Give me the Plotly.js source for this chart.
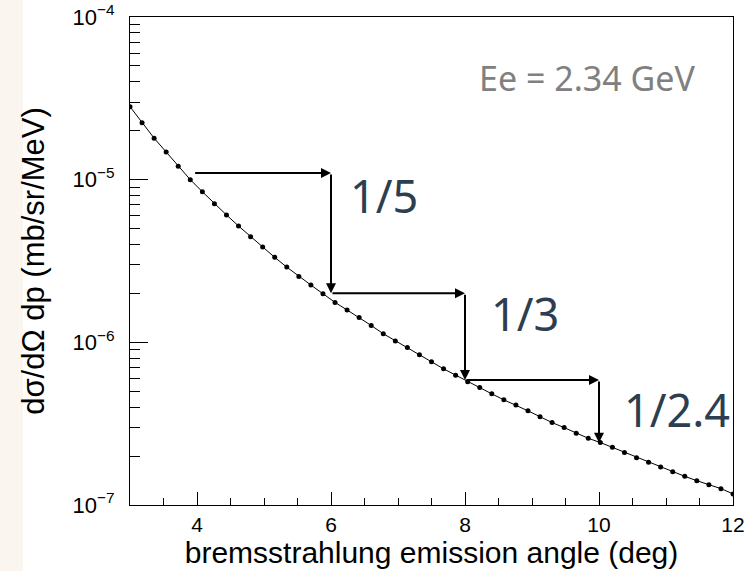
<!DOCTYPE html>
<html>
<head>
<meta charset="utf-8">
<script src="https://cdn.plot.ly/plotly-3.0.1.min.js"></script>
<style>
html,body{margin:0;padding:0;background:#fff;}
#chart{width:746px;height:571px;}
</style>
</head>
<body>
<div id="chart"></div>
<script>
// emission angle (deg)
const angle = [3, 3.18, 3.36, 3.54, 3.72, 3.9, 4.08, 4.26, 4.44, 4.62, 4.8, 4.98, 5.16, 5.34, 5.52, 5.7, 5.88, 6.06, 6.24, 6.42, 6.6, 6.78, 6.96, 7.14, 7.32, 7.5, 7.68, 7.86, 8.04, 8.22, 8.4, 8.58, 8.76, 8.94, 9.12, 9.3, 9.48, 9.66, 9.84, 10.02, 10.2, 10.38, 10.56, 10.74, 10.92, 11.1, 11.28, 11.46, 11.64, 11.82, 12];
// dsigma/dOmega dp (mb/sr/MeV)
const xsec = [2.81e-5, 2.24e-5, 1.80e-5, 1.48e-5, 1.21e-5, 1.00e-5, 8.43e-6, 7.11e-6, 6.07e-6, 5.19e-6,
              4.46e-6, 3.85e-6, 3.33e-6, 2.90e-6, 2.54e-6, 2.25e-6, 1.99e-6, 1.76e-6, 1.58e-6, 1.42e-6,
              1.27e-6, 1.13e-6, 1.02e-6, 9.28e-7, 8.39e-7, 7.59e-7, 6.87e-7, 6.28e-7, 5.73e-7, 5.27e-7,
              4.82e-7, 4.43e-7, 4.12e-7, 3.79e-7, 3.49e-7, 3.21e-7, 2.99e-7, 2.76e-7, 2.57e-7, 2.42e-7,
              2.26e-7, 2.10e-7, 1.95e-7, 1.83e-7, 1.71e-7, 1.60e-7, 1.50e-7, 1.41e-7, 1.33e-7, 1.26e-7, 1.17e-7];
// staircase arrows: corner angles and levels
const stepAngle = [3.95, 6, 8, 10];
const stepLevel = [1.1e-5, 2.0e-6, 5.87e-7, 2.41e-7];
const ratioLabels = ["1/5", "1/3", "1/2.4"];
const energyLabel = "Ee = 2.34 GeV";
const yTickVals = [1e-7, 1e-6, 1e-5, 1e-4];
const yTickText = ["10<sup>−7</sup>", "10<sup>−6</sup>", "10<sup>−5</sup>", "10<sup>−4</sup>"];

const trace = {
  x: angle, y: xsec, type: 'scatter', mode: 'lines+markers',
  line: {color: '#000', width: 1},
  marker: {color: '#000', size: 5},
  hoverinfo: 'x+y', showlegend: false
};

const L = Math.log10;
const annotations = [];
for (let k = 0; k < 3; k++) {
  annotations.push({
    x: stepAngle[k+1], y: L(stepLevel[k]), xref: 'x', yref: 'y',
    ax: stepAngle[k], ay: L(stepLevel[k]), axref: 'x', ayref: 'y',
    text: '', showarrow: true, arrowhead: 2, arrowsize: 1, arrowwidth: 2,
    arrowcolor: '#000', standoff: 0, startstandoff: 0
  });
  annotations.push({
    x: stepAngle[k+1], y: L(stepLevel[k+1]), xref: 'x', yref: 'y',
    ax: stepAngle[k+1], ay: L(stepLevel[k]), axref: 'x', ayref: 'y',
    text: '', showarrow: true, arrowhead: 2, arrowsize: 1, arrowwidth: 2,
    arrowcolor: '#000', standoff: 0, startstandoff: 0
  });
}
const labelPos = [[6.79, -5.10], [8.90, -5.82], [11.16, -6.41]];
ratioLabels.forEach((t, i) => {
  annotations.push({
    x: labelPos[i][0], y: labelPos[i][1], xref: 'x', yref: 'y',
    text: t, showarrow: false, xanchor: 'center', yanchor: 'middle',
    font: {family: 'Noto Sans, Open Sans, sans-serif', size: 45, color: '#2c3e50'}
  });
});
annotations.push({
  x: 0.94, y: 0.875, xref: 'paper', yref: 'paper', xanchor: 'right', yanchor: 'middle',
  text: energyLabel, showarrow: false,
  font: {family: 'Noto Sans, Open Sans, sans-serif', size: 34, color: '#808080'}
});

const tickFont = {family: 'Liberation Sans, Arial, sans-serif', size: 21, color: '#000'};
const titleFontX = {family: 'Liberation Sans, Arial, sans-serif', size: 30, color: '#000'};
const titleFontY = {family: 'Liberation Sans, Arial, sans-serif', size: 31, color: '#000'};
const layout = {
  width: 746, height: 571,
  margin: {l: 130, r: 13, t: 17, b: 66},
  paper_bgcolor: '#fff', plot_bgcolor: '#fff',
  xaxis: {
    range: [3, 12], tick0: 0, dtick: 2,
    ticks: 'inside', ticklen: 13, tickwidth: 1, tickcolor: '#000',
    minor: {dtick: 0.5, ticks: 'inside', ticklen: 7, tickcolor: '#000', showgrid: false},
    showline: true, linecolor: '#000', linewidth: 1, mirror: true,
    showgrid: false, zeroline: false,
    tickfont: tickFont, ticklabelstandoff: 1,
    title: {text: 'bremsstrahlung emission angle (deg)', font: titleFontX, standoff: 0}
  },
  yaxis: {
    type: 'log', range: [-7.0002, -3.9998],
    tickmode: 'array', tickvals: yTickVals, ticktext: yTickText,
    ticks: 'inside', ticklen: 18, tickwidth: 1, tickcolor: '#000',
    minor: {dtick: 'D1', ticks: 'inside', ticklen: 10, tickcolor: '#000', showgrid: false},
    showline: true, linecolor: '#000', linewidth: 1, mirror: true,
    showgrid: false, zeroline: false,
    tickfont: {family: 'Liberation Sans, Arial, sans-serif', size: 22, color: '#000'}, ticklabelstandoff: 10,
    title: {text: 'dσ/dΩ dp (mb/sr/MeV)', font: titleFontY, standoff: 18}
  },
  shapes: [{
    type: 'rect', xref: 'paper', yref: 'paper', layer: 'below',
    x0: -130/603, x1: -107/603, y0: -66/488, y1: 1 + 17/488,
    line: {width: 0}, fillcolor: '#faf6ef'
  }],
  annotations: annotations
};

Plotly.newPlot('chart', [trace], layout, {displayModeBar: false, staticPlot: true});
</script>
</body>
</html>
